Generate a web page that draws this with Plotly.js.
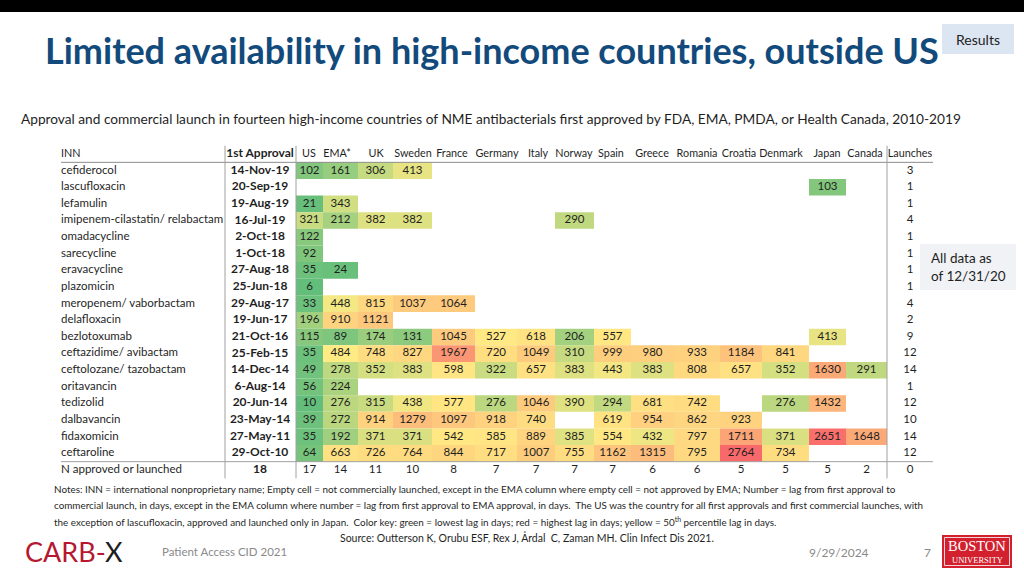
<!DOCTYPE html>
<html><head><meta charset="utf-8">
<script src="https://cdn.plot.ly/plotly-3.0.1.min.js"></script>
<style>html,body{margin:0;padding:0;background:#fff}#chart{width:1024px;height:576px}</style>
</head><body><div id="chart"></div>
<script>
// ---------------- DATA ----------------
const DRUGS = ['cefiderocol','lascufloxacin','lefamulin','imipenem-cilastatin/ relabactam','omadacycline','sarecycline','eravacycline','plazomicin','meropenem/ vaborbactam','delafloxacin','bezlotoxumab','ceftazidime/ avibactam','ceftolozane/ tazobactam','oritavancin','tedizolid','dalbavancin','fidaxomicin','ceftaroline'];
const FIRST_APPROVAL = ['14-Nov-19','20-Sep-19','19-Aug-19','16-Jul-19','2-Oct-18','1-Oct-18','27-Aug-18','25-Jun-18','29-Aug-17','19-Jun-17','21-Oct-16','25-Feb-15','14-Dec-14','6-Aug-14','20-Jun-14','23-May-14','27-May-11','29-Oct-10'];
const COUNTRIES = ['US','EMA*','UK','Sweden','France','Germany','Italy','Norway','Spain','Greece','Romania','Croatia','Denmark','Japan','Canada'];
const LAG_US      = [102,null,21,321,122,92,35,6,33,196,115,35,49,56,10,39,35,64];
const LAG_EMA     = [161,null,343,212,null,null,24,null,448,910,89,484,278,224,276,272,192,663];
const LAG_UK      = [306,null,null,382,null,null,null,null,815,1121,174,748,352,null,315,914,371,726];
const LAG_SWEDEN  = [413,null,null,382,null,null,null,null,1037,null,131,827,383,null,438,1279,371,764];
const LAG_FRANCE  = [null,null,null,null,null,null,null,null,1064,null,1045,1967,598,null,577,1097,542,844];
const LAG_GERMANY = [null,null,null,null,null,null,null,null,null,null,527,720,322,null,276,918,585,717];
const LAG_ITALY   = [null,null,null,null,null,null,null,null,null,null,618,1049,657,null,1046,740,889,1007];
const LAG_NORWAY  = [null,null,null,290,null,null,null,null,null,null,206,310,383,null,390,null,385,755];
const LAG_SPAIN   = [null,null,null,null,null,null,null,null,null,null,557,999,443,null,294,619,554,1162];
const LAG_GREECE  = [null,null,null,null,null,null,null,null,null,null,null,980,383,null,681,954,432,1315];
const LAG_ROMANIA = [null,null,null,null,null,null,null,null,null,null,null,933,808,null,742,862,797,795];
const LAG_CROATIA = [null,null,null,null,null,null,null,null,null,null,null,1184,657,null,null,923,1711,2764];
const LAG_DENMARK = [null,null,null,null,null,null,null,null,null,null,null,841,352,null,276,null,371,734];
const LAG_JAPAN   = [null,103,null,null,null,null,null,null,null,null,413,null,1630,null,1432,null,2651,null];
const LAG_CANADA  = [null,null,null,null,null,null,null,null,null,null,null,null,291,null,null,null,1648,null];
const LAUNCHES = [3,1,1,4,1,1,1,1,4,2,9,12,14,1,12,10,14,12];
const N_TOTAL_APPROVAL = 18;
const N_BY_COUNTRY = [17,14,11,10,8,7,7,7,7,6,6,5,5,5,2];
const N_TOTAL_LAUNCHES = 0;
const HDR_INN = 'INN', HDR_APPROVAL = '1st Approval', HDR_LAUNCHES = 'Launches';
const TOTAL_LABEL = 'N approved or launched';

// ---------------- LAYOUT CONSTANTS ----------------
const W = 1024, H = 576;
const FONT = 'Lato, "Noto Sans", sans-serif';
const COL_EDGES = [296,323,358,393,432,475,517,555,594,631,674,720,762,809,846,887];
const HEADER_X = [309,337,376,413,452,497,538,574,611,652,697,739,781,827,865];
const INN_X = 61, APPROVAL_X = 260, LAUNCH_X = 910;
const TABLE_TOP = 145.7, TABLE_BOTTOM = 478.3;
const LINE_COLOR = '#a0a0a0';

const LAGS = [LAG_US,LAG_EMA,LAG_UK,LAG_SWEDEN,LAG_FRANCE,LAG_GERMANY,LAG_ITALY,LAG_NORWAY,LAG_SPAIN,LAG_GREECE,LAG_ROMANIA,LAG_CROATIA,LAG_DENMARK,LAG_JAPAN,LAG_CANADA];
const colCenters = COL_EDGES.slice(0,-1).map((e,i)=>(e+COL_EDGES[i+1])/2);

// flatten filled cells
const cellY=[], cellBase=[], cellW=[], cellV=[], cellX=[], cellT=[];
LAGS.forEach((col,c)=>col.forEach((v,i)=>{
  if (v==null) return;
  cellY.push(DRUGS[i]); cellBase.push(COL_EDGES[c]); cellW.push(COL_EDGES[c+1]-COL_EDGES[c]);
  cellV.push(v); cellX.push(colCenters[c]); cellT.push(String(v));
}));
const all = cellV.slice().sort((a,b)=>a-b);
const zmin = all[0], zmax = all[all.length-1];
const pos = 0.5*(all.length-1), lo = Math.floor(pos);
const hiV = (lo+1<all.length)?all[lo+1]:all[lo];
const median = all[lo] + (pos-lo)*(hiV - all[lo]);
const mid = (median - zmin)/(zmax - zmin);

const CATS = [HDR_INN].concat(DRUGS, [TOTAL_LABEL]);
const TF = {family:FONT,size:11.5,color:'#1f1f1f'};
const TF_B = {family:FONT,size:12,color:'#1f1f1f'};
const TF_H = {family:FONT,size:10.8,color:'#1f1f1f'};

const traces = [
  {type:'bar', orientation:'h', y:cellY, x:cellW, base:cellBase, width:1.0,
   marker:{color:cellV, colorscale:[[0,'#63BE7B'],[mid,'#FFEB84'],[1,'#F8696B']], cmin:zmin, cmax:zmax, showscale:false, line:{width:0}},
   hoverinfo:'skip'},
  {type:'scatter', mode:'text', x:cellX, y:cellY, text:cellT, textposition:'middle center',
   textfont:{family:FONT,size:11.5,color:'#1f1f1f'}, hoverinfo:'skip'},
  {type:'scatter', mode:'text', x:DRUGS.map(()=>INN_X), y:DRUGS, text:DRUGS,
   textposition:'middle right', textfont:TF, hoverinfo:'skip'},
  {type:'scatter', mode:'text', x:DRUGS.map(()=>APPROVAL_X), y:DRUGS, text:FIRST_APPROVAL.map(t=>'<b>'+t+'</b>'),
   textposition:'middle center', textfont:TF_B, hoverinfo:'skip'},
  {type:'scatter', mode:'text', x:DRUGS.map(()=>LAUNCH_X), y:DRUGS, text:LAUNCHES.map(String),
   textposition:'middle center', textfont:TF, hoverinfo:'skip'},
  {type:'scatter', mode:'text', x:[INN_X], y:[HDR_INN], text:[HDR_INN],
   textposition:'middle right', textfont:TF_H, hoverinfo:'skip'},
  {type:'scatter', mode:'text', x:[APPROVAL_X], y:[HDR_INN], text:['<b>'+HDR_APPROVAL+'</b>'],
   textposition:'middle center', textfont:TF_B, hoverinfo:'skip'},
  {type:'scatter', mode:'text', x:HEADER_X.concat([LAUNCH_X]), y:COUNTRIES.map(()=>HDR_INN).concat([HDR_INN]),
   text:COUNTRIES.concat([HDR_LAUNCHES]),
   textposition:'middle center', textfont:TF_H, hoverinfo:'skip'},
  {type:'scatter', mode:'text', x:[INN_X], y:[TOTAL_LABEL], text:[TOTAL_LABEL],
   textposition:'middle right', textfont:TF, hoverinfo:'skip'},
  {type:'scatter', mode:'text', x:[APPROVAL_X], y:[TOTAL_LABEL], text:['<b>'+N_TOTAL_APPROVAL+'</b>'],
   textposition:'middle center', textfont:TF_B, hoverinfo:'skip'},
  {type:'scatter', mode:'text', x:colCenters.concat([LAUNCH_X]), y:COUNTRIES.map(()=>TOTAL_LABEL).concat([TOTAL_LABEL]),
   text:N_BY_COUNTRY.map(String).concat([String(N_TOTAL_LAUNCHES)]),
   textposition:'middle center', textfont:TF, hoverinfo:'skip'}
];

const px = x=>x/W, py = y=>1-y/H;
function ann(text,x,y,font,xanchor){
  return {text:text, x:px(x), y:py(y), xref:'paper', yref:'paper', xanchor:xanchor||'left', yanchor:'middle',
    showarrow:false, font:Object.assign({family:FONT,color:'#1f1f1f'},font)};
}
const SERIF = '"Liberation Serif", "DejaVu Serif", serif';
const annotations = [
  ann('<b>Limited availability in high-income countries, outside US</b>',43,50,{size:36,color:'#124a7c'}),
  ann('Results',978,39,{size:14,color:'#222'},'center'),
  ann('Approval and commercial launch in fourteen high-income countries of NME antibacterials first approved by FDA, EMA, PMDA, or Health Canada, 2010-2019',19,118,{size:13.7}),
  ann('All data as',929,258,{size:13.5}),
  ann('of 12/31/20',929,276,{size:13.5}),
  ann('Notes: INN = international nonproprietary name; Empty cell = not commercially launched, except in the EMA column where empty cell = not approved by EMA; Number = lag from first approval to',52,489,{size:9.9}),
  ann('commercial launch, in days, except in the EMA column where number = lag from first approval to EMA approval, in days.  The US was the country for all first approvals and first commercial launches, with',52,505,{size:9.9}),
  ann('the exception of lascufloxacin, approved and launched only in Japan.  Color key: green = lowest lag in days; red = highest lag in days; yellow = 50<sup>th</sup> percentile lag in days.',52,521,{size:9.9}),
  ann('Source: Outterson K, Orubu ESF, Rex J, Årdal  C, Zaman MH. Clin Infect Dis 2021.',527,537,{size:10.5},'center'),
  ann('<span style="color:#b5182f">CARB-</span><span style="color:#1e1e1e">X</span>',23,551,{size:27}),
  ann('Patient Access CID 2021',160,551,{size:11.5,color:'#8a8a8a'}),
  ann('9/29/2024',807,552,{size:12,color:'#8a8a8a'}),
  ann('7',927,552,{size:12,color:'#8a8a8a'},'center'),
  ann('BOSTON',977,546,{size:14.5,color:'#ffffff',family:SERIF},'center'),
  ann('UNIVERSITY',977,560,{size:8.5,color:'#ffffff',family:SERIF},'center')
];

const shapes = [
  {type:'rect', xref:'paper', yref:'paper', x0:0, x1:1, y0:py(12), y1:1, fillcolor:'#000', line:{width:0}},
  {type:'rect', xref:'paper', yref:'paper', x0:px(942), x1:px(1014), y0:py(54), y1:py(24), fillcolor:'#dce6f2', line:{width:0}},
  {type:'rect', xref:'paper', yref:'paper', x0:px(920), x1:px(1016), y0:py(290), y1:py(244), fillcolor:'#f0f2f5', line:{width:0}},
  {type:'rect', xref:'paper', yref:'paper', x0:px(942), x1:px(1012), y0:py(568), y1:py(535), fillcolor:'#d3202f', line:{width:0}},
  {type:'rect', xref:'paper', yref:'paper', x0:px(944.5), x1:px(1009.5), y0:py(565.5), y1:py(537.5), fillcolor:'rgba(0,0,0,0)', line:{width:0.8,color:'#ffffff'}},
  {type:'line', xref:'x', yref:'y', x0:INN_X, x1:933, y0:0.5, y1:0.5, line:{width:1,color:'#8c8c8c'}},
  {type:'line', xref:'x', yref:'y', x0:INN_X, x1:933, y0:18.5, y1:18.5, line:{width:1,color:LINE_COLOR}},
  {type:'line', xref:'x', yref:'paper', x0:225, x1:225, y0:py(TABLE_BOTTOM), y1:py(TABLE_TOP), line:{width:1,color:LINE_COLOR}},
  {type:'line', xref:'x', yref:'paper', x0:296, x1:296, y0:py(TABLE_BOTTOM), y1:py(TABLE_TOP), line:{width:1,color:LINE_COLOR}},
  {type:'line', xref:'x', yref:'paper', x0:887, x1:887, y0:py(TABLE_BOTTOM), y1:py(TABLE_TOP), line:{width:1,color:LINE_COLOR}}
];

const layout = {
  width:W, height:H, margin:{l:0,r:0,t:0,b:0}, paper_bgcolor:'#fff', plot_bgcolor:'rgba(0,0,0,0)',
  showlegend:false, font:{family:FONT}, barmode:'overlay',
  xaxis:{range:[0,W], domain:[0,1], visible:false, fixedrange:true},
  yaxis:{type:'category', categoryorder:'array', categoryarray:CATS, range:[CATS.length-0.5,-0.5],
         domain:[py(TABLE_BOTTOM), py(TABLE_TOP)], visible:false, fixedrange:true},
  annotations:annotations, shapes:shapes
};
Plotly.newPlot('chart', traces, layout, {displayModeBar:false, staticPlot:true});
</script></body></html>
